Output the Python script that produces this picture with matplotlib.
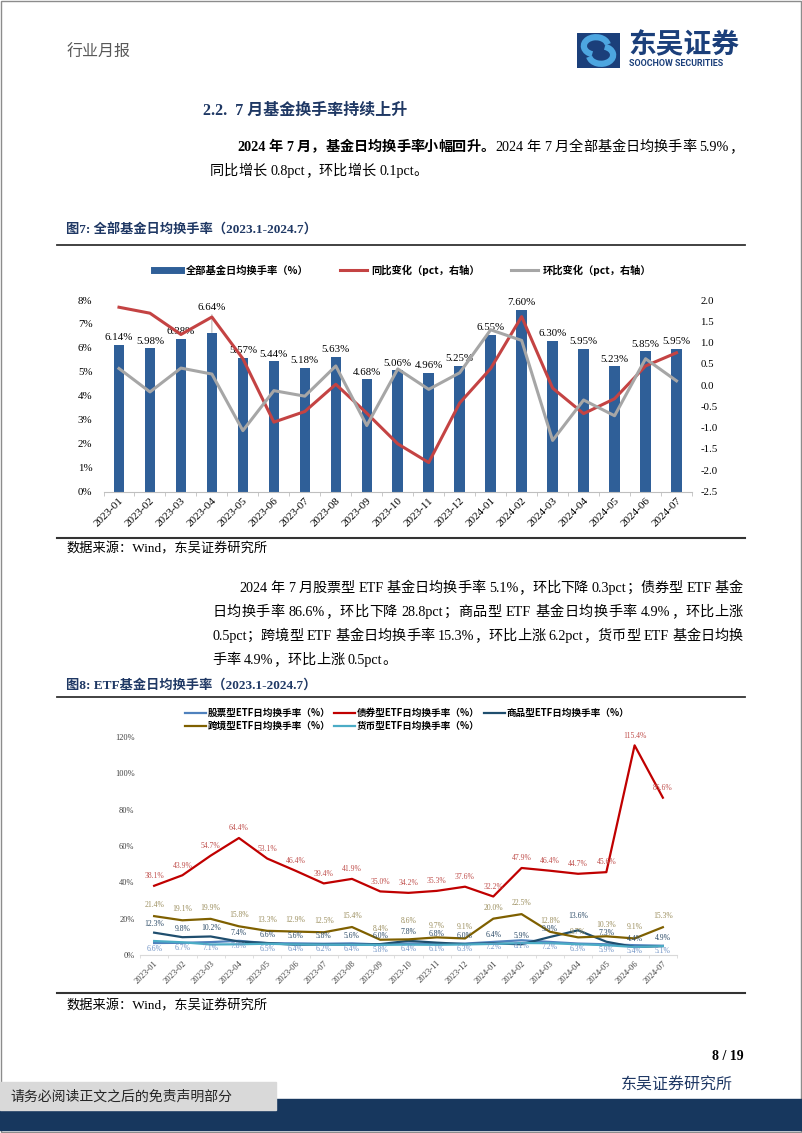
import re
import numpy as np
import matplotlib
matplotlib.use('Agg')
import matplotlib.pyplot as plt
from matplotlib.lines import Line2D
from matplotlib.patches import Rectangle, Arc

plt.rcParams['font.family'] = ['Liberation Serif', 'Noto Sans CJK SC']
plt.rcParams['axes.unicode_minus'] = False

months = ['2023-01', '2023-02', '2023-03', '2023-04', '2023-05', '2023-06', '2023-07',
          '2023-08', '2023-09', '2023-10', '2023-11', '2023-12', '2024-01', '2024-02',
          '2024-03', '2024-04', '2024-05', '2024-06', '2024-07']

# fig 7: all funds
turnover = [6.14, 5.98, 6.38, 6.64, 5.57, 5.44, 5.18, 5.63, 4.68, 5.06, 4.96, 5.25,
            6.55, 7.60, 6.30, 5.95, 5.23, 5.85, 5.95]
yoy = [1.83, 1.69, 1.19, 1.60, 0.62, -0.87, -0.62, 0.02, -0.66, -1.38, -1.82, -0.42,
       0.39, 1.61, -0.07, -0.67, -0.32, 0.45, 0.76]
mom = [0.39, -0.16, 0.40, 0.26, -1.07, -0.13, -0.26, 0.45, -0.95, 0.38, -0.10, 0.29,
       1.30, 1.05, -1.30, -0.35, -0.72, 0.62, 0.10]

# fig 8: ETF by type
etf_stock = [6.6, 6.7, 7.1, 7.8, 6.5, 6.4, 6.2, 6.4, 5.8, 6.4, 6.1, 6.3, 7.2, 8.1, 7.2, 6.3, 5.9, 5.4, 5.1]
etf_bond = [38.1, 43.9, 54.7, 64.4, 53.1, 46.4, 39.4, 41.9, 35.0, 34.2, 35.3, 37.6, 32.2, 47.9,
            46.4, 44.7, 45.6, 115.4, 86.6]
etf_commodity = [12.3, 9.8, 10.2, 7.4, 6.6, 5.6, 5.8, 5.6, 6.0, 7.8, 6.8, 6.0, 6.4, 5.9, 9.9,
                 13.6, 7.3, 4.4, 4.9]
etf_cross = [21.4, 19.1, 19.9, 15.8, 13.3, 12.9, 12.5, 15.4, 8.4, 8.6, 9.7, 9.1, 20.0, 22.5, 12.8,
             9.7, 10.3, 9.1, 15.3]
etf_money = [7.7, 7.0, 5.8, 5.9, 6.2, 5.8, 5.7, 5.6, 5.6, 5.7, 5.6, 5.8, 6.1, 6.6, 6.5, 5.9, 5.4, 4.4, 4.9]

W, H = 802, 1133
NAVY = '#1F3864'

fig = plt.figure(figsize=(W / 100, H / 100), dpi=100)
renderer = fig.canvas.get_renderer()


def fx(x):
    return x / W


def fy(y):
    return 1 - y / H


def em(size):
    return size * 100 / 72


def para_line(parts, x0, y, size, x1=None):
    # place tokens one by one so the line can be justified like the page
    items = []
    for s, w in parts:
        for tok in re.findall(r'[A-Za-z0-9.%]+| |.', s):
            if tok == ' ':
                items.append((None, em(size) * 0.25))
                continue
            t = fig.text(0, fy(y), tok, fontsize=size, fontweight=w, va='baseline', ha='left')
            if ord(tok[0]) > 0x2e00:
                wid = em(size)
            else:
                wid = t.get_window_extent(renderer).width
            items.append((t, wid))
    total = sum(w for _, w in items)
    extra = 0 if x1 is None else (x1 - x0 - total) / (len(items) - 1)
    x = x0
    for t, w in items:
        if t is not None:
            t.set_x(fx(x))
        x += w + extra


def rule(y, lw=1.3):
    fig.add_artist(Line2D([fx(57), fx(745)], [fy(y), fy(y)], color='#333333', lw=lw))


# page frame
fig.add_artist(Rectangle((0.001, 0.001), 0.998, 0.998, transform=fig.transFigure,
                         fill=False, edgecolor='#8c8c8c', lw=1))

# header
fig.text(fx(67), fy(52), '行业月报', fontsize=11.5, color='#595959', va='center',
         family=['Noto Sans CJK SC'])
lax = fig.add_axes([fx(577), fy(68), fx(620) - fx(577), fy(33) - fy(68)])
lax.set_xlim(0, 1)
lax.set_ylim(0, 1)
lax.axis('off')
lax.add_patch(Rectangle((0, 0), 1, 1, color='#1B3F7A'))
lax.add_patch(Arc((0.44, 0.63), 0.56, 0.5, theta1=10, theta2=250, color='#4DA6E0', lw=4.5))
lax.add_patch(Arc((0.56, 0.37), 0.56, 0.5, theta1=190, theta2=430, color='#4DA6E0', lw=4.5))
fig.text(fx(628), fy(45), '东吴证券', fontsize=20, fontweight='bold', color='#1B3F7A',
         va='center', family=['Noto Sans CJK SC'])
fig.text(fx(629), fy(64), 'SOOCHOW SECURITIES', fontsize=6.4, fontweight='bold',
         color='#1B3F7A', va='center', family=['Roboto'])

# section title and first paragraph
fig.text(fx(203), fy(111), '2.2.  7 月基金换手率持续上升', fontsize=11.5, fontweight='bold',
         color=NAVY, va='center')
para_line([('2024 年 7 月，基金日均换手率小幅回升。', 'bold'),
           ('2024 年 7 月全部基金日均换手率 5.9%，', 'normal')], 237, 151, 10.2, 743)
para_line([('同比增长 0.8pct，环比增长 0.1pct。', 'normal')], 210, 175, 10.2)

# figure 7
fig.text(fx(66), fy(230), '图7: 全部基金日均换手率（2023.1-2024.7）', fontsize=9.5,
         fontweight='bold', color=NAVY, va='center')
rule(245)

BAR = '#2F5F98'
RED = '#C44343'
GRAY = '#A6A6A6'
x = np.arange(len(months))

ax1 = fig.add_axes([fx(103.5), fy(491.5), fx(692) - fx(103.5), fy(300) - fy(491.5)])
ax1.bar(x, turnover, width=0.34, color=BAR)
ax1.set_xlim(-0.5, len(months) - 0.5)
ax1.set_ylim(0, 8)
ax1.set_yticks(range(0, 9))
ax1.set_yticklabels([f'{v}%' for v in range(0, 9)])
ax1.set_xticks(x)
ax1.set_xticklabels(months, rotation=45, ha='right', rotation_mode='anchor')
ax1.set_xticks(np.arange(-0.5, len(months), 1), minor=True)
ax1.tick_params(axis='y', length=0, pad=8, labelsize=7.8)
ax1.tick_params(axis='x', which='major', length=0, pad=3, labelsize=8)
ax1.tick_params(axis='x', which='minor', length=3, color='#BFBFBF')
for s in ['top', 'left', 'right']:
    ax1.spines[s].set_visible(False)
ax1.spines['bottom'].set_color('#BFBFBF')
for i, (xi, v) in enumerate(zip(x, turnover)):
    if i == 3:
        # this label sits higher on the page, tied to its bar by a short leader
        ax1.annotate(f'{v:.2f}%', (xi, v), xytext=(0, 15), textcoords='offset points',
                     ha='center', va='bottom', fontsize=7.8,
                     arrowprops=dict(arrowstyle='-', color='#A6A6A6', lw=0.6, shrinkA=0, shrinkB=0))
    else:
        ax1.annotate(f'{v:.2f}%', (xi, v), xytext=(0, 2), textcoords='offset points',
                     ha='center', va='bottom', fontsize=7.8)

ax1b = ax1.twinx()
ax1b.plot(x, yoy, color=RED, lw=2.2)
ax1b.plot(x, mom, color=GRAY, lw=2.2)
ax1b.set_ylim(-2.5, 2.0)
rt = np.arange(-2.5, 2.01, 0.5)
ax1b.set_yticks(rt)
ax1b.set_yticklabels([f'{v:.1f}' for v in rt])
ax1b.tick_params(axis='y', length=0, pad=6, labelsize=7.8)
for s in ax1b.spines.values():
    s.set_visible(False)

h1 = [Line2D([], [], color=BAR, lw=5), Line2D([], [], color=RED, lw=2.2),
      Line2D([], [], color=GRAY, lw=2.2)]
fig.legend(h1, ['全部基金日均换手率（%）', '同比变化（pct，右轴）', '环比变化（pct，右轴）'],
           loc='center', bbox_to_anchor=(fx(403), fy(270)), ncol=3, frameon=False,
           prop={'family': ['Noto Sans CJK SC'], 'size': 7.4, 'weight': 'bold'},
           handlelength=2.6, handletextpad=0.5, columnspacing=3.0)

rule(538, 1.5)
fig.text(fx(66), fy(549), '数据来源：Wind，东吴证券研究所', fontsize=9.5, va='center')

# second paragraph
para_line([('2024 年 7 月股票型 ETF 基金日均换手率 5.1%，环比下降 0.3pct；债券型 ETF 基金', 'normal')],
          239, 592, 10.2, 743)
para_line([('日均换手率 86.6%，环比下降 28.8pct；商品型 ETF 基金日均换手率 4.9%，环比上涨', 'normal')],
          212, 616, 10.2, 743)
para_line([('0.5pct；跨境型 ETF 基金日均换手率 15.3%，环比上涨 6.2pct，货币型 ETF 基金日均换', 'normal')],
          212, 640, 10.2, 743)
para_line([('手率 4.9%，环比上涨 0.5pct。', 'normal')], 212, 664, 10.2)

# figure 8
fig.text(fx(66), fy(685), '图8: ETF基金日均换手率（2023.1-2024.7）', fontsize=9.5,
         fontweight='bold', color=NAVY, va='center')
rule(697)

ax2 = fig.add_axes([fx(140), fy(955), fx(677) - fx(140), fy(737) - fy(955)])
series = [
    ('股票型ETF日均换手率（%）', etf_stock, '#4F81BD', '#6F92C4', -4),
    ('债券型ETF日均换手率（%）', etf_bond, '#C00000', '#C0504D', 7),
    ('商品型ETF日均换手率（%）', etf_commodity, '#1F4E6E', '#2B4A66', 6),
    ('跨境型ETF日均换手率（%）', etf_cross, '#7F6000', '#9C8F5F', 8),
    ('货币型ETF日均换手率（%）', etf_money, '#4BACC6', None, 0),
]
# a few labels are nudged on the page to keep them apart (series index, month index): offset pt
nudge = {(3, 9): 13, (3, 15): 4, (2, 15): 10}
handles = {}
for k, (name, vals, col, lcol, off) in enumerate(series):
    ln, = ax2.plot(x, vals, color=col, lw=1.6)
    handles[name] = ln
    if lcol is None:
        continue
    for xi, v in zip(x, vals):
        ax2.annotate(f'{v:.1f}%', (xi, v), xytext=(0, nudge.get((k, xi), off)),
                     textcoords='offset points', ha='center', va='center', fontsize=5.5,
                     color=lcol)
ax2.set_xlim(-0.5, len(months) - 0.5)
ax2.set_ylim(0, 120)
ax2.set_yticks(range(0, 121, 20))
ax2.set_yticklabels([f'{v}%' for v in range(0, 121, 20)])
ax2.set_xticks(x)
ax2.set_xticklabels(months, rotation=45, ha='right', rotation_mode='anchor')
ax2.set_xticks(np.arange(-0.5, len(months), 1), minor=True)
ax2.tick_params(axis='y', length=0, pad=4, labelsize=6, labelcolor='#404040')
ax2.tick_params(axis='x', which='major', length=0, pad=3, labelsize=6.2, labelcolor='#404040')
ax2.tick_params(axis='x', which='minor', length=2.5, color='#D9D9D9')
for s in ['top', 'left', 'right']:
    ax2.spines[s].set_visible(False)
ax2.spines['bottom'].set_color('#D9D9D9')

order = ['股票型ETF日均换手率（%）', '跨境型ETF日均换手率（%）', '债券型ETF日均换手率（%）',
         '货币型ETF日均换手率（%）', '商品型ETF日均换手率（%）']
fig.legend([handles[k] for k in order], order, loc='center',
           bbox_to_anchor=(fx(407), fy(719.5)), ncol=3, frameon=False,
           prop={'family': ['Noto Sans CJK SC'], 'size': 6.9, 'weight': 'bold'},
           handlelength=2.2, handletextpad=0.2, columnspacing=0.4, labelspacing=0.3)

rule(993, 1.5)
fig.text(fx(66), fy(1006), '数据来源：Wind，东吴证券研究所', fontsize=9.5, va='center')

# footer
fig.text(fx(744), fy(1057), '8 / 19', fontsize=10, fontweight='bold', ha='right', va='center')
fig.text(fx(621), fy(1085), '东吴证券研究所', fontsize=11.5, color=NAVY, va='center',
         family=['Noto Sans CJK SC'])
fig.add_artist(Rectangle((0, fy(1130)), 1, fy(1099) - fy(1130), transform=fig.transFigure,
                         color='#17375E'))
fig.add_artist(Rectangle((0, fy(1110)), fx(276), fy(1082) - fy(1110), transform=fig.transFigure,
                         color='#D9D9D9'))
fig.text(fx(10), fy(1097), '请务必阅读正文之后的免责声明部分', fontsize=10, color='#262626',
         va='center', family=['Noto Sans CJK SC'])

fig.savefig('out.png', dpi=100)
